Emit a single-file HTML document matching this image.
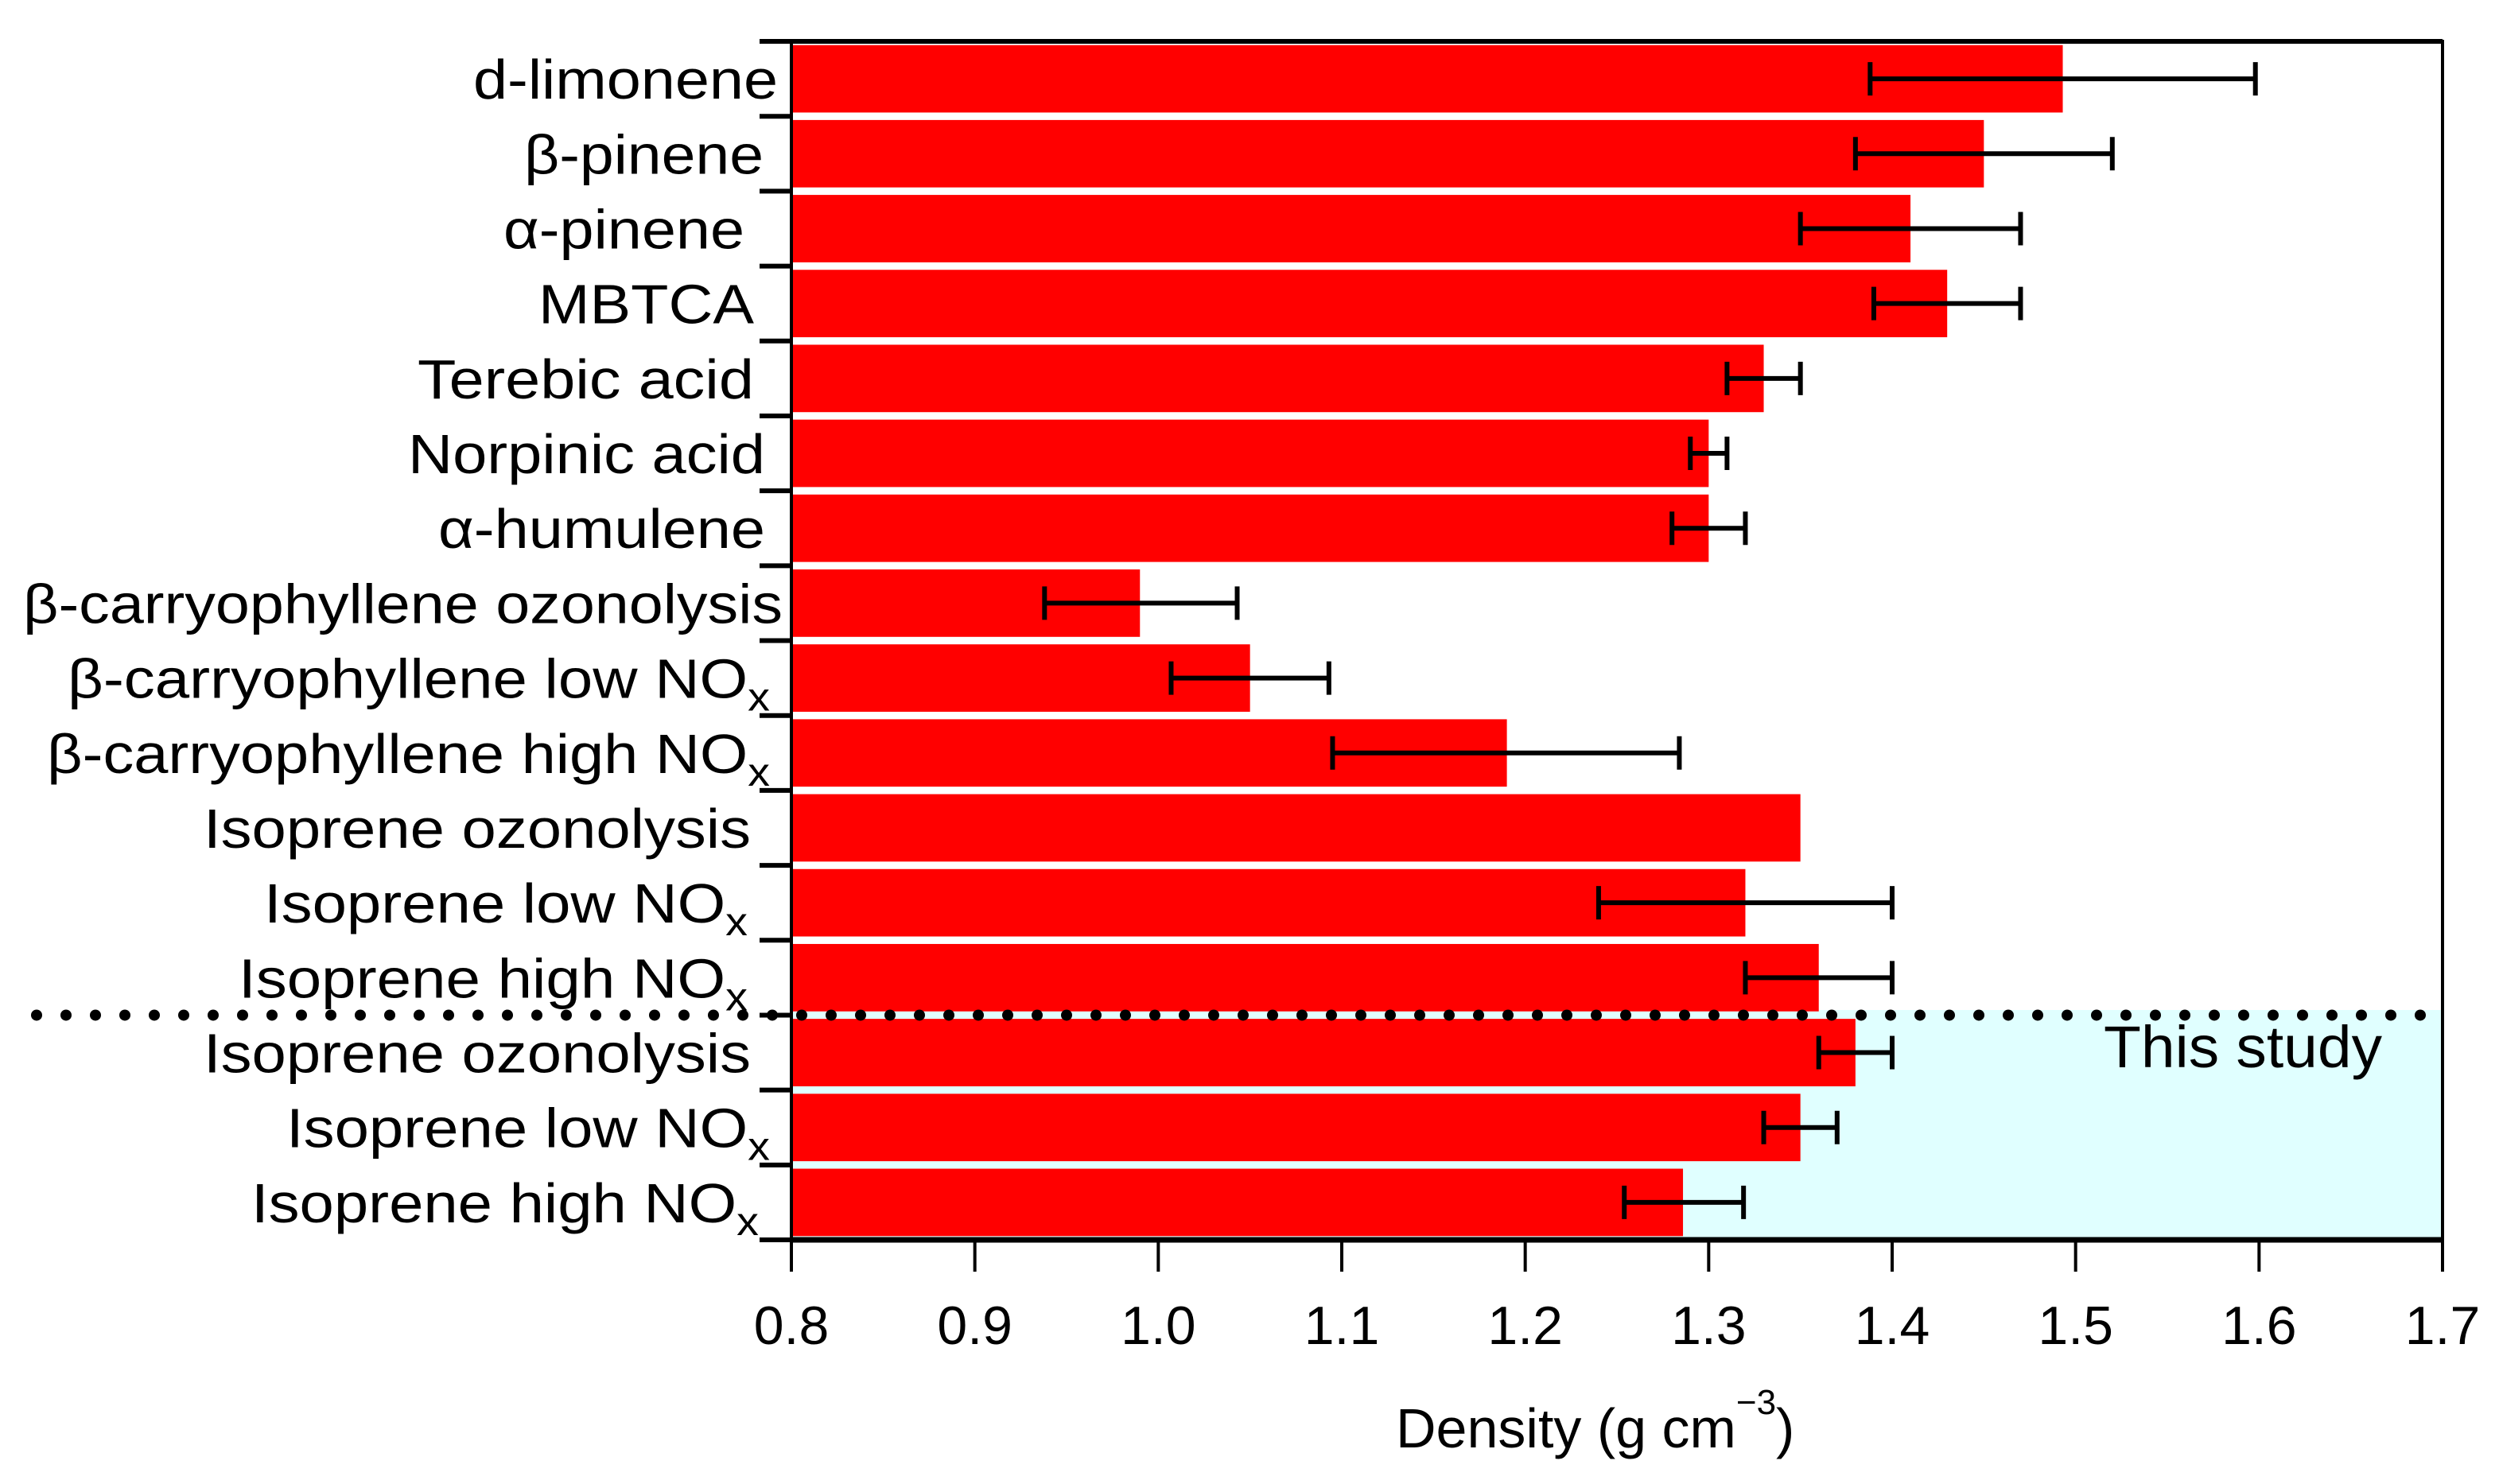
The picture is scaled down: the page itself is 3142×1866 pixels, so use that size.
<!DOCTYPE html>
<html><head><meta charset="utf-8"><style>
html,body{margin:0;padding:0;background:#fff;}
svg{display:block;font-family:"Liberation Sans",sans-serif;}
</style></head><body>
<svg id="chart" width="3142" height="1866" viewBox="0 0 3142 1866" xmlns="http://www.w3.org/2000/svg">
<rect x="995" y="1270" width="2076" height="289" fill="#e0ffff"/>
<g id="bars"></g>
<g id="labels"></g>
<g id="axes"></g>
<text x="2995" y="1342" font-size="74" text-anchor="end" textLength="350" lengthAdjust="spacingAndGlyphs">This study</text>
<text x="1755" y="1820" font-size="70">Density (g cm<tspan font-size="44" dy="-42">−3</tspan><tspan dy="42">)</tspan></text>
</svg>
<script>
const categories=["d-limonene","β-pinene","α-pinene","MBTCA","Terebic acid","Norpinic acid","α-humulene","β-carryophyllene ozonolysis","β-carryophyllene low NO|x","β-carryophyllene high NO|x","Isoprene ozonolysis","Isoprene low NO|x","Isoprene high NO|x","Isoprene ozonolysis","Isoprene low NO|x","Isoprene high NO|x"];
const values=[1.493,1.45,1.41,1.43,1.33,1.30,1.30,0.99,1.05,1.19,1.35,1.32,1.36,1.38,1.35,1.286];
const errLow=[1.388,1.38,1.35,1.39,1.31,1.29,1.28,0.938,1.007,1.095,null,1.24,1.32,1.36,1.33,1.254];
const errHigh=[1.598,1.52,1.47,1.47,1.35,1.31,1.32,1.043,1.093,1.284,null,1.40,1.40,1.40,1.37,1.319];
const xTicks=[0.8,0.9,1.0,1.1,1.2,1.3,1.4,1.5,1.6,1.7];
const labelWidths=[383,301,303,271,423,449,411,955,883,909,688,608,640,688,608,638];
const labelRight=[978,960,936,948,948,962,962,984,968,968,944,940,940,944,968,954];

const L=995,R=3071,T=52,B=1559,N=categories.length,step=(B-T)/N;
const xs=v=>L+(v-0.8)/(1.7-0.8)*(R-L);
const yc=i=>T+step*(i+0.5);
const NS="http://www.w3.org/2000/svg";
function mk(tag,attrs,parent){const e=document.createElementNS(NS,tag);for(const k in attrs)e.setAttribute(k,attrs[k]);parent.appendChild(e);return e;}
const gb=document.getElementById('bars'),gl=document.getElementById('labels'),ga=document.getElementById('axes');
values.forEach((v,i)=>{
  const r=mk('rect',{x:L,y:yc(i)-step*0.45,width:xs(v)-L,height:step*0.9,fill:'#ff0000'},gb);
  
  
  if(errLow[i]!==null){
    const g=mk('g',{stroke:'#000','stroke-width':6},gb);
    
    
    const y=yc(i);
    mk('line',{x1:xs(errLow[i]),x2:xs(errHigh[i]),y1:y,y2:y},g);
    mk('line',{x1:xs(errLow[i]),x2:xs(errLow[i]),y1:y-21,y2:y+21},g);
    mk('line',{x1:xs(errHigh[i]),x2:xs(errHigh[i]),y1:y-21,y2:y+21},g);
  }
  const parts=categories[i].split('|');
  const t=mk('text',{x:labelRight[i],y:yc(i)+25,'font-size':70,'text-anchor':'end',textLength:labelWidths[i],lengthAdjust:'spacingAndGlyphs'},gl);
  
  
  t.appendChild(document.createTextNode(parts[0]));
  if(parts[1]){const s=mk('tspan',{dy:16,'font-size':50},t);s.textContent=parts[1];}
});
for(let i=0;i<=N;i++){const tk=mk('line',{x1:L-40,x2:L,y1:T+step*i,y2:T+step*i,stroke:'#000','stroke-width':6},ga);
  
  }
const fr=mk('rect',{x:L,y:T,width:R-L,height:B-T,fill:'none',stroke:'#000','stroke-width':4},ga);


const xb=mk('line',{x1:L,x2:R,y1:B,y2:B,stroke:'#000','stroke-width':7},ga);


const tb=mk('line',{x1:L-40,x2:R,y1:T,y2:T,stroke:'#000','stroke-width':6},ga);


xTicks.forEach(v=>{
  const tk=mk('line',{x1:xs(v),x2:xs(v),y1:B,y2:B+40,stroke:'#000','stroke-width':4},ga);
  
  
  const tl=mk('text',{x:xs(v),y:1690,'font-size':68,'text-anchor':'middle'},ga);
  
  
  tl.textContent=v.toFixed(1);
});
const sepY=T+step*13;
const d=mk('line',{x1:46,x2:R,y1:sepY,y2:sepY,stroke:'#000','stroke-width':14,'stroke-linecap':'round','stroke-dasharray':'0 37'},ga);


</script>
</body></html>
